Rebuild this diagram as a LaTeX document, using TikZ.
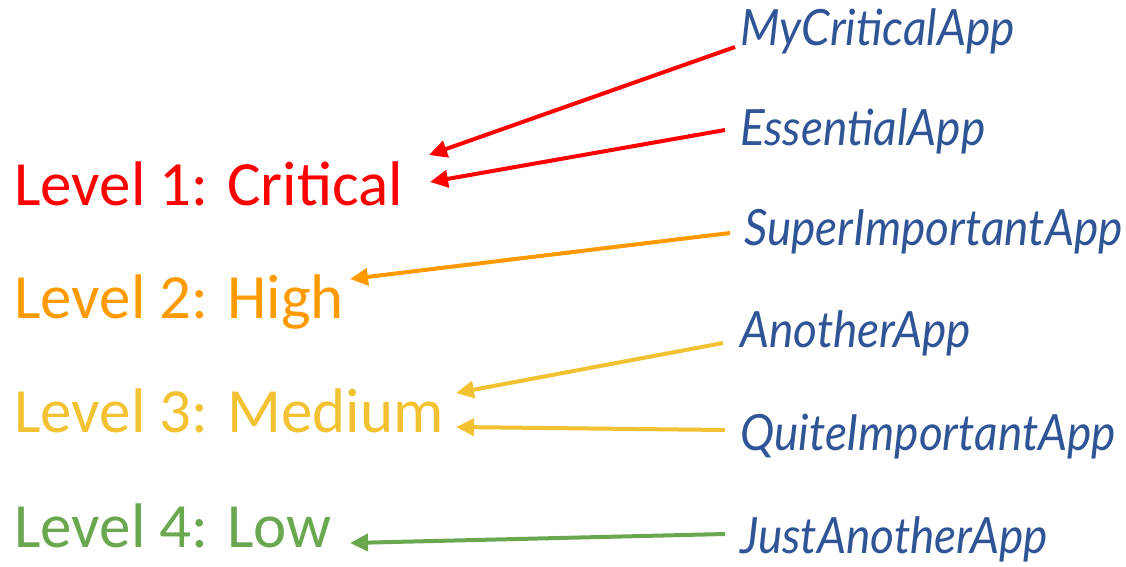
\documentclass[tikz,border=0pt]{standalone}
\usepackage{fontspec}
\setmainfont{Carlito}
\newfontfamily\handfont{Lato Italic}
\usetikzlibrary{arrows.meta}
\definecolor{critred}{HTML}{FF0000}
\definecolor{highorange}{HTML}{FF9A00}
\definecolor{medgold}{HTML}{F2C232}
\definecolor{lowgreen}{HTML}{6AA84F}
\definecolor{appblue}{HTML}{2F5597}
\newcommand{\appname}[1]{\scalebox{0.92}[1]{#1}}
\tikzset{
  level/.style={anchor=base west, inner sep=0pt, font=\fontsize{63}{63}\selectfont},
  app/.style={anchor=base west, inner sep=0pt, text=appblue, font=\handfont\fontsize{50}{50}\selectfont},
  link/.style={line width=4pt, -{Triangle[length=18pt,width=17pt]}}
}
\begin{document}
\begin{tikzpicture}[x=1pt,y=-1pt]
\useasboundingbox (0,0) rectangle (1126,566);

% priority levels
\node[level, text=critred]    (l1) at (14,205) {Level 1: Critical};
\node[level, text=highorange] (l2) at (14,318) {Level 2: High};
\node[level, text=medgold]    (l3) at (14,432) {Level 3: Medium};
\node[level, text=lowgreen]   (l4) at (14,547) {Level 4: Low};

% applications
\node[app] (a1) at (740,45)  {\appname{MyCriticalApp}};
\node[app] (a2) at (740,145) {\appname{EssentialApp}};
\node[app] (a3) at (744,245) {\appname{SuperImportantApp}};
\node[app] (a4) at (740,347) {\appname{AnotherApp}};
\node[app] (a5) at (740,450) {\appname{QuiteImportantApp}};
\node[app] (a6) at (740,553) {\appname{JustAnotherApp}};

% arrow end points
\coordinate (s1) at (735,47);  \coordinate (t1) at (429,155);
\coordinate (s2) at (725,130); \coordinate (t2) at (430,182);
\coordinate (s3) at (730,233); \coordinate (t3) at (350,279);
\coordinate (s4) at (723,343); \coordinate (t4) at (456,393);
\coordinate (s5) at (725,430); \coordinate (t5) at (456,427);
\coordinate (s6) at (725,534); \coordinate (t6) at (350,543);

\draw[link, critred]    (s1) -- (t1);
\draw[link, critred]    (s2) -- (t2);
\draw[link, highorange] (s3) -- (t3);
\draw[link, medgold]    (s4) -- (t4);
\draw[link, medgold]    (s5) -- (t5);
\draw[link, lowgreen]   (s6) -- (t6);
\end{tikzpicture}
\end{document}
